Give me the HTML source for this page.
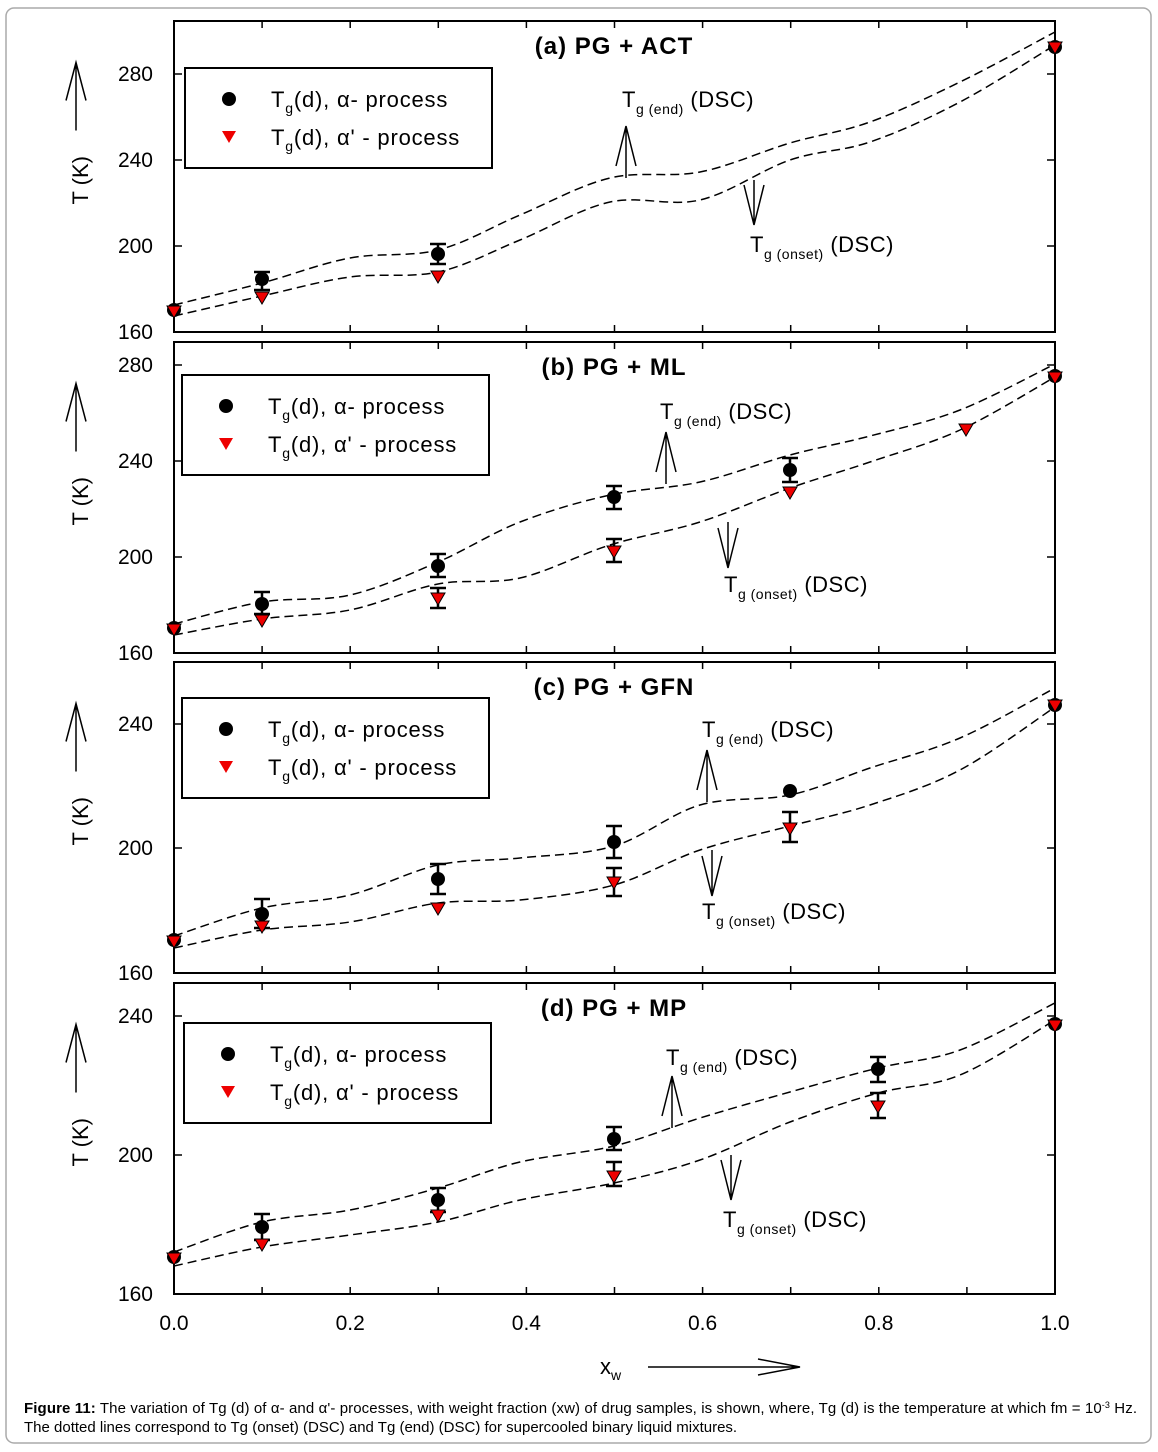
<!DOCTYPE html>
<html><head><meta charset="utf-8"><style>
body{margin:0;background:#fff;}
svg{display:block;font-family:"Liberation Sans",sans-serif;}
</style></head><body>
<svg id="s" width="1158" height="1452" xmlns="http://www.w3.org/2000/svg">
<rect x="6" y="8" width="1145" height="1435" rx="8" fill="#fff" stroke="#aaa" stroke-width="1.5"/>
<g id="g"></g>
<text x="24" y="1413" font-size="15" textLength="1113"><tspan font-weight="bold">Figure 11:</tspan> The variation of Tg (d) of α- and α'- processes, with weight fraction (xw) of drug samples, is shown, where, Tg (d) is the temperature at which fm = 10<tspan font-size="9" dy="-5">-3</tspan><tspan dy="5"> Hz.</tspan></text>
<text x="24" y="1432" font-size="15">The dotted lines correspond to Tg (onset) (DSC) and Tg (end) (DSC) for supercooled binary liquid mixtures.</text>
</svg>
<script>
const g=document.getElementById('g');let h='';
function cr(p){let d='M'+p[0][0]+','+p[0][1];for(let i=0;i<p.length-1;i++){const p0=p[i-1]||p[i],p1=p[i],p2=p[i+1],p3=p[i+2]||p2;d+=' C'+(p1[0]+(p2[0]-p0[0])/6)+','+(p1[1]+(p2[1]-p0[1])/6)+' '+(p2[0]-(p3[0]-p1[0])/6)+','+(p2[1]-(p3[1]-p1[1])/6)+' '+p2[0]+','+p2[1];}return d;}
function dash(p){h+=`<path d="${cr(p)}" fill="none" stroke="#000" stroke-width="1.5" stroke-dasharray="9,5"/>`;}
function circ(x,y){h+=`<circle cx="${x}" cy="${y}" r="7" fill="#000"/>`;}
function tri(x,y){h+=`<path d="M${x-7},${y-6} L${x+7},${y-6} L${x},${y+6}Z" fill="#e00" stroke="#000" stroke-width="1"/>`;}
function err(x,a,b){h+=`<path d="M${x},${a}V${b}M${x-8},${a}H${x+8}M${x-8},${b}H${x+8}" stroke="#000" stroke-width="2.5" fill="none"/>`;}
function arrowUp(x,y1,y2){h+=`<path d="M${x},${y1}V${y2}M${x-10},${y2+40}L${x},${y2}L${x+10},${y2+40}" stroke="#000" stroke-width="1.5" fill="none"/>`;}
function arrowDn(x,y1,y2){h+=`<path d="M${x},${y1}V${y2}M${x-10},${y2-40}L${x},${y2}L${x+10},${y2-40}" stroke="#000" stroke-width="1.5" fill="none"/>`;}
function panel(top,bot,ticks,title,leg){
 h+=`<rect x="174" y="${top}" width="881" height="${bot-top}" fill="none" stroke="#000" stroke-width="2"/>`;
 for(const [v,y] of ticks){h+=`<path d="M174,${y}h8M1055,${y}h-8" stroke="#000" stroke-width="1.5"/><text x="153" y="${y+7}" font-size="21" text-anchor="end">${v}</text>`;}
 for(let i=1;i<10;i++){const x=174+88.1*i;h+=`<path d="M${x},${top}v7M${x},${bot}v-7" stroke="#000" stroke-width="1.5"/>`;}
 h+=`<text x="614" y="${top+33}" font-size="24" font-weight="bold" text-anchor="middle" letter-spacing="1">${title}</text>`;
 const [lx,ly]=leg;
 h+=`<rect x="${lx}" y="${ly}" width="307" height="100" fill="#fff" stroke="#000" stroke-width="2"/>`;
 h+=`<circle cx="${lx+44}" cy="${ly+31}" r="7" fill="#000"/>`;
 h+=`<path d="M${lx+37},${ly+63} L${lx+51},${ly+63} L${lx+44},${ly+75}Z" fill="#e00"/>`;
 h+=`<text x="${lx+86}" y="${ly+39}" font-size="22" letter-spacing="0.8">T<tspan font-size="14" dy="6">g</tspan><tspan dy="-6">(d),  α- process</tspan></text>`;
 h+=`<text x="${lx+86}" y="${ly+77}" font-size="22" letter-spacing="0.8">T<tspan font-size="14" dy="6">g</tspan><tspan dy="-6">(d),  α' - process</tspan></text>`;
 const mid=(top+bot)/2;
 h+=`<text transform="translate(88,${mid+28}) rotate(-90)" font-size="22">T (K)</text>`;
 h+=`<path d="M76,${mid-46}V${mid-114}M66,${mid-76}L76,${mid-114}L86,${mid-76}" stroke="#000" stroke-width="1.5" fill="none"/>`;
}
function lbl(x,y,s){h+=`<text x="${x}" y="${y}" font-size="22" letter-spacing="0.5">T<tspan font-size="14" dy="7">g (${s})</tspan><tspan dy="-7"> (DSC)</tspan></text>`;}
// a
panel(21,332,[[160,332],[200,246],[240,160],[280,74]],'(a) PG + ACT',[185,68]);
dash([[174,305],[262,283],[350,258],[438,250],[520,215],[610,178],[700,172],[790,143],[870,122],[960,82],[1055,32]]);
dash([[174,316],[262,296],[350,277],[438,272],[520,240],[610,202],[700,200],[790,160],[870,142],[960,102],[1055,45]]);
err(262,272,290);err(438,244,264);
circ(174,310);circ(262,279);circ(438,254);circ(1055,47);
tri(174,312);tri(262,298);tri(438,277);tri(1055,48);
arrowUp(626,178,126);arrowDn(754,180,225);lbl(622,107,'end');lbl(750,252,'onset');
// b
panel(342,653,[[160,653],[200,557],[240,461],[280,365]],'(b) PG + ML',[182,375]);
dash([[174,624],[262,602],[350,595],[438,562],[520,522],[610,495],[700,482],[790,455],[870,436],[960,410],[1055,364]]);
dash([[174,635],[262,619],[350,610],[438,584],[520,578],[610,545],[700,522],[790,488],[870,462],[960,430],[1055,377]]);
err(262,592,614);err(438,554,577);err(438,588,608);err(614,486,509);err(614,539,562);err(790,458,482);
circ(174,628);circ(262,604);circ(438,566);circ(614,497);circ(790,470);circ(1055,376);
tri(174,630);tri(262,621);tri(438,599);tri(614,552);tri(790,493);tri(966,430);tri(1055,378);
arrowUp(666,484,432);arrowDn(728,522,568);lbl(660,419,'end');lbl(724,592,'onset');
// c
panel(662,973,[[160,973],[200,848],[240,724]],'(c) PG + GFN',[182,698]);
dash([[174,936],[262,908],[350,895],[438,865],[520,858],[614,846],[700,805],[790,795],[870,768],[960,738],[1055,688]]);
dash([[174,948],[262,930],[350,922],[438,903],[520,900],[614,885],[700,850],[790,826],[870,805],[960,770],[1055,707]]);
err(262,899,928);err(438,864,894);err(614,826,858);err(614,868,896);err(790,812,842);
circ(174,940);circ(262,914);circ(438,879);circ(614,842);circ(790,791);circ(1055,705);
tri(174,942);tri(262,927);tri(438,909);tri(614,883);tri(790,829);tri(1055,706);
arrowUp(707,802,750);arrowDn(712,850,896);lbl(702,737,'end');lbl(702,919,'onset');
// d
panel(983,1294,[[160,1294],[200,1155],[240,1016]],'(d) PG + MP',[184,1023]);
dash([[174,1252],[262,1222],[350,1210],[438,1188],[520,1162],[614,1146],[700,1118],[790,1092],[878,1068],[960,1050],[1055,1003]]);
dash([[174,1266],[262,1247],[350,1235],[438,1222],[520,1200],[614,1183],[700,1160],[790,1122],[878,1093],[960,1075],[1055,1020]]);
err(262,1214,1240);err(438,1188,1212);err(614,1127,1150);err(614,1162,1186);err(878,1057,1082);err(878,1093,1118);
circ(174,1257);circ(262,1227);circ(438,1200);circ(614,1139);circ(878,1069);circ(1055,1024);
tri(174,1259);tri(262,1245);tri(438,1216);tri(614,1177);tri(878,1107);tri(1055,1026);
arrowUp(672,1128,1076);arrowDn(731,1155,1200);lbl(666,1065,'end');lbl(723,1227,'onset');
// x axis labels
[0,0.2,0.4,0.6,0.8,1.0].forEach(v=>{h+=`<text x="${174+881*v}" y="1330" font-size="21" text-anchor="middle">${v.toFixed(1)}</text>`;});
h+=`<text x="600" y="1374" font-size="22">x<tspan font-size="14" dy="6">w</tspan></text>`;
h+=`<path d="M648,1367H800M758,1359L800,1367L758,1375" stroke="#000" stroke-width="1.5" fill="none"/>`;
g.innerHTML=h;
</script>
</body></html>
